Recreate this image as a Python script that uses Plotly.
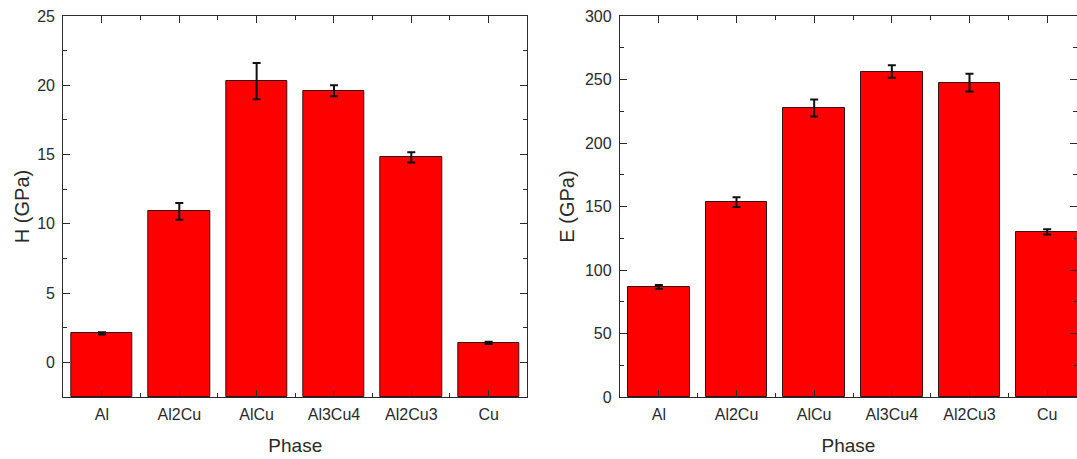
import plotly.graph_objects as go

phases = ["Al", "Al2Cu", "AlCu", "Al3Cu4", "Al2Cu3", "Cu"]
hardness = [2.1, 10.9, 20.3, 19.6, 14.8, 1.4]
hardness_err = [0.08, 0.6, 1.3, 0.4, 0.37, 0.08]
modulus = [86.7, 153.4, 227.5, 256.3, 247.6, 130.0]
modulus_err = [1.5, 3.8, 6.7, 4.9, 7.0, 2.0]

h_range = [-2.5, 25]
e_range = [0, 300]

xpos = list(range(len(phases)))
h_base = h_range[0]

RED = "#FF0000"
EDGE = "#3a1010"
AX = "#2b2b2b"
TXT = "#2a2a2a"
FONT = "Arial, Liberation Sans, sans-serif"

fig = go.Figure()
fig.add_trace(go.Bar(
    x=xpos, y=[v - h_base for v in hardness], base=h_base,
    width=0.79, marker=dict(color=RED, line=dict(color=EDGE, width=1)),
    error_y=dict(type="data", array=hardness_err, color="#111", thickness=2, width=4),
    xaxis="x", yaxis="y", showlegend=False,
    customdata=hardness, hovertemplate="%{customdata}<extra></extra>",
))
fig.add_trace(go.Bar(
    x=xpos, y=modulus,
    width=0.79, marker=dict(color=RED, line=dict(color=EDGE, width=1)),
    error_y=dict(type="data", array=modulus_err, color="#111", thickness=2, width=4),
    xaxis="x2", yaxis="y2", showlegend=False,
))

W, H = 1077, 459
left_dom = [63.3 / W, 527.3 / W]
right_dom = [620 / W, 1.0]
# right panel is cropped at the image edge: visible part of its 6-category span
right_end = -0.5 + 6 * (W - 620) / (1086 - 620)

common_x = dict(
    tickmode="array", tickvals=xpos, ticktext=phases,
    ticks="inside", ticklen=7, tickwidth=1.2, tickcolor=AX,
    showline=True, linecolor=AX, linewidth=1.3, mirror="ticks",
    showgrid=False, zeroline=False, ticklabelstandoff=3,
    minor=dict(tickmode="array", tickvals=[i + 0.5 for i in xpos[:-1]],
               ticks="inside", ticklen=4, tickwidth=1.2, tickcolor=AX, showgrid=False),
    tickfont=dict(family=FONT, size=16, color=TXT),
    title=dict(text="Phase", font=dict(family=FONT, size=19, color=TXT), standoff=16),
)
common_y = dict(
    ticks="inside", ticklen=7, tickwidth=1.2, tickcolor=AX,
    showline=True, linecolor=AX, linewidth=1.3, mirror="ticks",
    showgrid=False, zeroline=False, ticklabelstandoff=4,
    tickfont=dict(family=FONT, size=16, color=TXT),
)

fig.update_layout(
    width=W, height=H,
    margin=dict(l=0, r=0, t=16, b=62),
    paper_bgcolor="white", plot_bgcolor="white",
    bargap=0,
    xaxis=dict(common_x, domain=left_dom, range=[-0.5, 5.5], anchor="y"),
    yaxis=dict(common_y, domain=[0, 1], range=h_range, anchor="x",
               tickvals=[0, 5, 10, 15, 20, 25],
               minor=dict(tickmode="array", tickvals=[-2.5, 2.5, 7.5, 12.5, 17.5, 22.5],
                          ticks="inside", ticklen=4, tickwidth=1.2, tickcolor=AX, showgrid=False),
               title=dict(text="H (GPa)", font=dict(family=FONT, size=20, color=TXT), standoff=2)),
    xaxis2=dict(common_x, domain=right_dom, range=[-0.5, right_end], anchor="y2"),
    yaxis2=dict(common_y, domain=[0, 1], range=e_range, anchor="x2",
                tickvals=[0, 50, 100, 150, 200, 250, 300],
                minor=dict(tickmode="array", tickvals=[25, 75, 125, 175, 225, 275],
                           ticks="inside", ticklen=4, tickwidth=1.2, tickcolor=AX, showgrid=False),
                title=dict(text="E (GPa)", font=dict(family=FONT, size=20, color=TXT), standoff=4)),
)

fig.write_html(
    "out.html",
    config={"displayModeBar": False},
    post_script="document.body.style.margin='0';document.body.style.overflow='hidden';",
)
